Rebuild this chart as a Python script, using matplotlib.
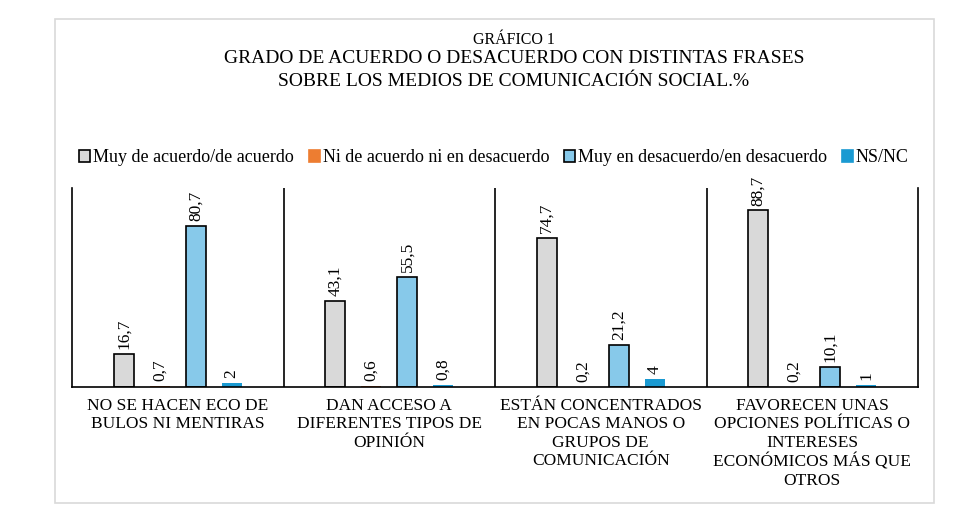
import numpy as np
import matplotlib.pyplot as plt
from matplotlib.patches import Rectangle, Patch

categories = [
    'NO SE HACEN ECO DE\nBULOS NI MENTIRAS',
    'DAN ACCESO A\nDIFERENTES TIPOS DE\nOPINIÓN',
    'ESTÁN CONCENTRADOS\nEN POCAS MANOS O\nGRUPOS DE\nCOMUNICACIÓN',
    'FAVORECEN UNAS\nOPCIONES POLÍTICAS O\nINTERESES\nECONÓMICOS MÁS QUE\nOTROS',
]
series_names = [
    'Muy de acuerdo/de acuerdo',
    'Ni de acuerdo ni en desacuerdo',
    'Muy en desacuerdo/en desacuerdo',
    'NS/NC',
]
acuerdo = [16.7, 43.1, 74.7, 88.7]
ni_ni = [0.7, 0.6, 0.2, 0.2]
desacuerdo = [80.7, 55.5, 21.2, 10.1]
ns_nc = [2, 0.8, 4, 1]
labels_text = [
    ['16,7', '43,1', '74,7', '88,7'],
    ['0,7', '0,6', '0,2', '0,2'],
    ['80,7', '55,5', '21,2', '10,1'],
    ['2', '0,8', '4', '1'],
]

colors = ['#D9D9D9', '#ED7D31', '#87C9EA', '#1A9AD2']
edges = ['black', 'none', 'black', 'none']

plt.rcParams['font.family'] = ['Liberation Serif', 'DejaVu Serif']

fig = plt.figure(figsize=(9.73, 5.2), dpi=100)
fig.patches.append(Rectangle((55 / 973, 1 - 503 / 520), 879 / 973, 484 / 520,
                             transform=fig.transFigure, fill=False,
                             edgecolor='#D9D9D9', linewidth=1.2))
ax = fig.add_axes([72 / 973, 1 - 387 / 520, 846 / 973, 199 / 520])

x = np.arange(1, 5)
width = 0.095
step = 0.17
all_values = [acuerdo, ni_ni, desacuerdo, ns_nc]
for i, vals in enumerate(all_values):
    pos = x + (i - 1.5) * step
    ax.bar(pos, vals, width, color=colors[i], edgecolor=edges[i], linewidth=1.2)
    for p, v, t in zip(pos, vals, labels_text[i]):
        ax.text(p, v + 2.5, t, rotation=90, ha='center', va='bottom', fontsize=12.5)

ax.set_xlim(0.5, 4.5)
ax.set_ylim(0, 100)
for b in [1.5, 2.5, 3.5]:
    ax.axvline(b, color='black', linewidth=1.2)
ax.spines['top'].set_visible(False)
for s in ['left', 'right', 'bottom']:
    ax.spines[s].set_linewidth(1.2)
ax.set_yticks([])
ax.set_xticks([])
for xi, c in zip(x, categories):
    ax.text(xi, -5.5, c, ha='center', va='top', fontsize=12.5, linespacing=1.2)

fig.text(514 / 973, 1 - 40 / 520, 'GRÁFICO 1', ha='center', va='center', fontsize=11.5)
fig.text(514 / 973, 1 - 70 / 520,
         'GRADO DE ACUERDO O DESACUERDO CON DISTINTAS FRASES\nSOBRE LOS MEDIOS DE COMUNICACIÓN SOCIAL.%',
         ha='center', va='center', fontsize=14, linespacing=1.45)

handles = [Patch(facecolor=colors[i], edgecolor=edges[i] if edges[i] != 'none' else colors[i],
                 linewidth=1.2) for i in range(4)]
fig.legend(handles, series_names, loc='center', bbox_to_anchor=(494 / 973, 1 - 158 / 520),
           ncol=4, frameon=False, fontsize=13, handlelength=0.6, handleheight=0.6,
           handletextpad=0.15, columnspacing=0.85)

fig.savefig('out.png', dpi=100)
